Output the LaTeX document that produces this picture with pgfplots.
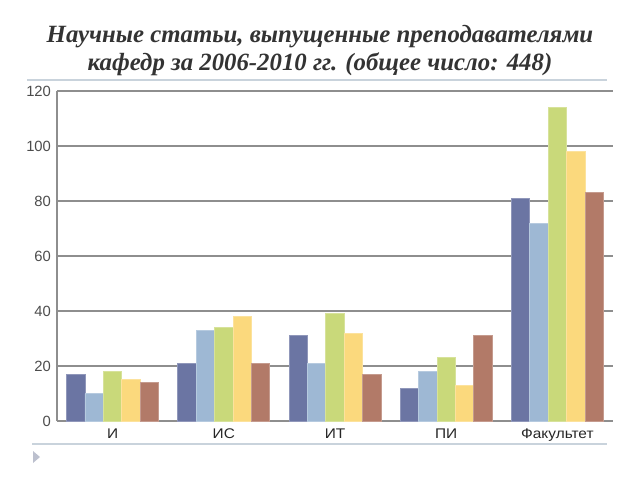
\documentclass[border=0pt]{standalone}
\usepackage{pgfplots}
\pgfplotsset{compat=1.18}
\usepackage{fontspec}
\setmainfont{Liberation Serif}
\newfontfamily\sans{Liberation Sans}
\definecolor{sA}{HTML}{6B75A3}
\definecolor{sB}{HTML}{9EB8D4}
\definecolor{sC}{HTML}{C9D97A}
\definecolor{sD}{HTML}{FBD97D}
\definecolor{sE}{HTML}{B27A68}
\definecolor{gridc}{HTML}{8E8E8E}
\definecolor{titlec}{HTML}{333333}
\definecolor{sepc}{HTML}{C9D3DC}
\newcommand{\xl}[1]{\scalebox{1.1}[1]{#1}}
\begin{document}
\begin{tikzpicture}
\begin{scope}[x=0.75pt,y=-0.75pt]
\path[use as bounding box] (0,0) rectangle (640,480);
% title
\node[font=\fontsize{18.6}{21}\selectfont\bfseries\itshape, text=titlec, align=center, anchor=base] at (320,42) {Научные статьи, выпущенные преподавателями};
\node[font=\fontsize{18.6}{21}\selectfont\bfseries\itshape, text=titlec, align=center, anchor=base] at (320,70) {кафедр за 2006-2010 гг. (общее число: 448)};
\draw[sepc, line width=1.2pt] (27,80) -- (607,80);
\draw[sepc, line width=0.9pt] (32,444) -- (607,444);
\fill[sepc!90!blue!60!gray!70] (33,451) -- (40,457) -- (33,463) -- cycle;
\end{scope}
\begin{axis}[
  at={(42.75pt,-315.75pt)}, anchor=south west,
  scale only axis, width=417pt, height=247.5pt,
  ymin=0, ymax=120, ytick={0,20,...,120},
  xmin=-0.5, xmax=4.5,
  xtick={0,1,2,3,4},
  xticklabels={\xl{И},\xl{ИС},\xl{ИТ},\xl{ПИ},\xl{Факультет}},
  axis lines*=left,
  axis line style={gridc, line width=0.8pt},
  ymajorgrids, grid style={gridc, line width=0.8pt},
  major tick length=0pt,
  ybar=0pt, bar width=13.8pt,
  /pgf/number format/assume math mode=true,
  yticklabel style={font=\sans\fontsize{11.1}{12}\selectfont, text=black!70, xshift=-1pt},
  xticklabel style={font=\sans\fontsize{10.5}{11}\selectfont, text=black!85, yshift=-2.5pt},
  every axis plot/.append style={line width=0.5pt},
  clip=false,
]
\addplot[fill=sA, draw=sA!75!white] coordinates {(0,17) (1,21) (2,31) (3,12) (4,81)};
\addplot[fill=sB, draw=sB!75!white] coordinates {(0,10) (1,33) (2,21) (3,18) (4,72)};
\addplot[fill=sC, draw=sC!75!white] coordinates {(0,18) (1,34) (2,39) (3,23) (4,114)};
\addplot[fill=sD, draw=sD!75!white] coordinates {(0,15) (1,38) (2,32) (3,13) (4,98)};
\addplot[fill=sE, draw=sE!75!white] coordinates {(0,14) (1,21) (2,17) (3,31) (4,83)};
\end{axis}
\end{tikzpicture}
\end{document}
